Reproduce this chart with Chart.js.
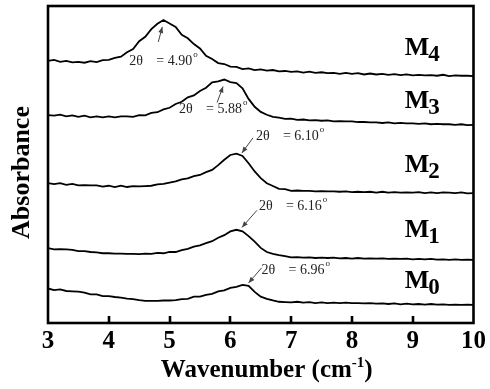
<!DOCTYPE html>
<html>
<head>
<meta charset="utf-8">
<script src="https://cdn.jsdelivr.net/npm/chart.js@4.4.1/dist/chart.umd.min.js"></script>
<style>
  html, body { margin: 0; padding: 0; background: #fff; }
  #wrap { width: 490px; height: 389px; }
</style>
</head>
<body>
<div id="wrap"><canvas id="c" width="490" height="389"></canvas></div>
<script>
// ---- data ----
const wavenumber = [3.0,3.1,3.2,3.3,3.4,3.5,3.6,3.7,3.8,3.9,
  4.0,4.1,4.2,4.3,4.4,4.5,4.6,4.7,4.8,4.9,
  5.0,5.1,5.2,5.3,5.4,5.5,5.6,5.7,5.8,5.9,
  6.0,6.1,6.2,6.3,6.4,6.5,6.6,6.7,6.8,6.9,
  7.0,7.1,7.2,7.3,7.4,7.5,7.6,7.7,7.8,7.9,
  8.0,8.1,8.2,8.3,8.4,8.5,8.6,8.7,8.8,8.9,
  9.0,9.1,9.2,9.3,9.4,9.5,9.6,9.7,9.8,9.9,
  10.0];

const absM4 = [82.7,83.0,82.4,82.7,82.2,82.4,82.1,82.6,82.3,82.9,
  83.0,83.6,84.0,85.4,86.4,88.9,90.3,92.7,94.4,95.6,
  94.5,93.4,90.9,89.8,88.0,86.6,84.3,83.3,82.0,81.7,
  80.9,80.8,80.1,80.3,79.8,80.0,79.6,79.8,79.4,79.5,
  79.2,79.4,79.0,79.3,78.9,79.1,78.8,78.9,78.6,78.9,
  78.6,78.8,78.4,78.7,78.4,78.6,78.3,78.5,78.2,78.4,
  78.1,78.3,78.1,78.2,78.0,78.3,77.9,78.1,78.0,78.0,
  77.9];

const absM3 = [65.6,65.4,65.7,65.2,65.5,65.0,65.4,64.9,65.2,64.9,
  65.2,64.9,65.2,65.2,65.0,65.6,65.5,66.3,66.5,67.4,
  67.9,69.1,69.8,71.2,71.8,73.2,74.2,75.9,76.2,76.8,
  76.0,75.7,74.0,70.7,68.2,66.6,65.7,65.0,64.8,64.4,
  64.5,64.1,64.2,63.9,64.0,63.8,63.9,63.6,63.7,63.6,
  63.6,63.4,63.4,63.3,63.3,63.1,63.3,63.0,63.1,63.0,
  63.0,62.8,63.0,62.7,62.8,62.7,62.7,62.5,62.7,62.4,
  62.5];

const absM2 = [44.1,43.8,44.1,43.6,43.9,43.4,43.5,43.4,43.4,43.0,
  43.3,42.9,43.3,42.9,43.2,43.1,43.2,43.3,43.7,43.9,
  44.3,44.7,45.3,45.6,46.3,46.7,47.6,48.3,49.8,51.5,
  53.0,53.4,52.7,50.4,47.8,45.7,44.1,43.2,42.3,42.2,
  41.7,41.8,41.7,41.7,41.5,41.6,41.5,41.5,41.4,41.5,
  41.3,41.4,41.3,41.4,41.1,41.4,41.1,41.3,41.1,41.2,
  41.1,41.3,41.0,41.2,41.0,41.2,41.1,41.0,41.2,40.9,
  41.0];

const absM1 = [23.6,23.2,23.3,23.2,23.1,22.7,22.7,22.4,22.3,22.0,
  22.0,21.9,21.9,21.8,21.8,21.7,21.9,21.8,22.1,22.0,
  22.4,22.4,23.0,23.4,24.1,24.5,25.2,25.8,26.9,27.7,
  28.9,29.4,28.9,27.4,25.7,23.7,22.4,21.8,21.4,21.1,
  20.7,20.8,20.6,20.7,20.5,20.6,20.5,20.6,20.4,20.5,
  20.3,20.5,20.3,20.4,20.3,20.4,20.2,20.3,20.2,20.3,
  20.1,20.2,20.1,20.2,20.0,20.1,19.9,20.1,19.9,20.0,
  19.9];

const absM0 = [10.9,10.4,10.6,10.1,10.0,9.9,9.6,9.0,9.0,8.5,
  8.5,8.2,8.0,7.7,7.5,7.2,7.0,7.0,7.0,7.1,
  7.1,7.2,7.5,7.6,8.3,8.3,8.9,9.2,10.0,10.3,
  11.1,11.4,12.0,11.7,9.8,8.3,7.6,7.1,6.7,6.6,
  6.5,6.7,6.4,6.6,6.3,6.5,6.3,6.4,6.3,6.4,
  6.3,6.3,6.2,6.3,6.1,6.2,6.0,6.2,5.9,6.1,
  5.9,6.0,5.8,6.0,5.8,5.9,5.7,5.8,5.7,5.8,
  5.7];

const xTicks = [3, 4, 5, 6, 7, 8, 9, 10];
const sampleNames = ['M', 'M', 'M', 'M', 'M'];
const sampleSubs = ['4', '3', '2', '1', '0'];
const peakTwoTheta = ['4.90', '5.88', '6.10', '6.16', '6.96'];
const peakWavenumber = [4.88, 5.88, 6.19, 6.19, 6.30];
const seriesList = [absM4, absM3, absM2, absM1, absM0];

// ---- layout / style settings (not data) ----
const labelAnchorX = 8.87;
const labelAnchorY = [84.5, 67.8, 47.6, 27.1, 11.0];
const arrowStyle = [
  { tipDy: 7,  tail: [-4, 15],  text: [-33, 38] },
  { tipDy: 7,  tail: [-6, 16],  text: [-44, 26] },
  { tipDy: -3, tail: [11, -15], text: [14, -13] },
  { tipDy: -4, tail: [15, -17], text: [17, -17] },
  { tipDy: -3, tail: [13, -15], text: [13, -9] }
];
const SERIF = '"Liberation Serif", "Times New Roman", serif';

const datasets = seriesList.map((s, k) => ({
  label: sampleNames[k] + sampleSubs[k],
  data: wavenumber.map((x, i) => ({ x: x, y: s[i] })),
  borderColor: '#000',
  borderWidth: 1.8,
  pointRadius: 0,
  tension: 0,
  fill: false
}));

function nearestValue(series, x) {
  let best = 0, bd = Infinity;
  wavenumber.forEach((w, i) => { const d = Math.abs(w - x); if (d < bd) { bd = d; best = i; } });
  return series[best];
}

const overlay = {
  id: 'overlay',
  afterDatasetsDraw(chart) {
    const ctx = chart.ctx;
    const xs = chart.scales.x, ys = chart.scales.y;
    const a = chart.chartArea;
    ctx.save();
    // frame
    ctx.strokeStyle = '#000';
    ctx.lineWidth = 2.6;
    ctx.strokeRect(a.left, a.top, a.right - a.left, a.bottom - a.top);
    // inward ticks on bottom axis
    xTicks.forEach(v => {
      if (v === xs.min || v === xs.max) return;
      const px = Math.round(xs.getPixelForValue(v));
      ctx.beginPath();
      ctx.moveTo(px, a.bottom);
      ctx.lineTo(px, a.bottom - 7);
      ctx.stroke();
    });
    // sample labels with subscripts
    ctx.fillStyle = '#000';
    ctx.textBaseline = 'alphabetic';
    ctx.textAlign = 'left';
    sampleNames.forEach((n, k) => {
      const px = xs.getPixelForValue(labelAnchorX);
      const py = ys.getPixelForValue(labelAnchorY[k]);
      ctx.font = 'bold 26px ' + SERIF;
      ctx.fillText(n, px, py);
      const w = ctx.measureText(n).width;
      ctx.font = 'bold 23px ' + SERIF;
      ctx.fillText(sampleSubs[k], px + w - 1, py + 6);
    });
    // peak annotations with arrows
    peakTwoTheta.forEach((t, k) => {
      const st = arrowStyle[k];
      const tipX = xs.getPixelForValue(peakWavenumber[k]);
      const tipY = ys.getPixelForValue(nearestValue(seriesList[k], peakWavenumber[k])) + st.tipDy;
      const tx = tipX + st.tail[0], ty = tipY + st.tail[1];
      ctx.strokeStyle = '#444';
      ctx.fillStyle = '#444';
      ctx.lineWidth = 1;
      ctx.beginPath();
      ctx.moveTo(tx, ty);
      ctx.lineTo(tipX, tipY);
      ctx.stroke();
      const ang = Math.atan2(tipY - ty, tipX - tx);
      const L = 6, W = 2.5;
      ctx.beginPath();
      ctx.moveTo(tipX, tipY);
      ctx.lineTo(tipX - L * Math.cos(ang) + W * Math.sin(ang), tipY - L * Math.sin(ang) - W * Math.cos(ang));
      ctx.lineTo(tipX - L * Math.cos(ang) - W * Math.sin(ang), tipY - L * Math.sin(ang) + W * Math.cos(ang));
      ctx.closePath();
      ctx.fill();
      // text
      const lx = tipX + st.text[0], ly = tipY + st.text[1];
      ctx.fillStyle = '#222';
      ctx.font = '14px ' + SERIF;
      ctx.fillText('2\u03B8', lx, ly);
      const eq = '= ' + t;
      ctx.fillText(eq, lx + 27, ly);
      const we = ctx.measureText(eq).width;
      ctx.font = '9px ' + SERIF;
      ctx.fillText('o', lx + 27 + we + 1, ly - 8);
    });
    // x axis title with superscript
    ctx.fillStyle = '#000';
    const cx = (a.left + a.right) / 2 + 6;
    const by = a.bottom + 54;
    ctx.font = 'bold 25px ' + SERIF;
    const p1 = 'Wavenumber (cm', p3 = ')';
    const w1 = ctx.measureText(p1).width, w3 = ctx.measureText(p3).width;
    ctx.font = 'bold 15px ' + SERIF;
    const p2 = '-1';
    const w2 = ctx.measureText(p2).width;
    const start = cx - (w1 + w2 + w3) / 2;
    ctx.font = 'bold 25px ' + SERIF;
    ctx.fillText(p1, start, by);
    ctx.font = 'bold 15px ' + SERIF;
    ctx.fillText(p2, start + w1, by - 10);
    ctx.font = 'bold 25px ' + SERIF;
    ctx.fillText(p3, start + w1 + w2, by);
    // y axis title
    ctx.save();
    ctx.translate(22, (a.top + a.bottom) / 2 + 8);
    ctx.rotate(-Math.PI / 2);
    ctx.textAlign = 'center';
    ctx.textBaseline = 'middle';
    ctx.font = 'bold 26px ' + SERIF;
    ctx.fillText('Absorbance', 0, 0);
    ctx.restore();
    ctx.restore();
  }
};

new Chart(document.getElementById('c'), {
  type: 'line',
  data: { datasets: datasets },
  options: {
    responsive: false,
    animation: false,
    devicePixelRatio: 1,
    layout: { padding: { top: 6, right: 13, left: 0, bottom: 0 } },
    plugins: { legend: { display: false }, tooltip: { enabled: false } },
    scales: {
      x: {
        type: 'linear',
        min: 3, max: 10,
        afterBuildTicks: (s) => { s.ticks = xTicks.map(v => ({ value: v })); },
        afterFit: (s) => { s.height = 66; },
        grid: { display: false, drawTicks: false },
        border: { display: false },
        ticks: { color: '#000', padding: 4, font: { family: SERIF, size: 25, weight: 'bold' }, maxRotation: 0 }
      },
      y: {
        type: 'linear',
        min: 0, max: 100,
        afterFit: (s) => { s.width = 48; },
        grid: { display: false, drawTicks: false },
        border: { display: false },
        ticks: { display: false },
        title: { display: false, text: 'Absorbance' }
      }
    }
  },
  plugins: [overlay]
});
</script>
</body>
</html>
